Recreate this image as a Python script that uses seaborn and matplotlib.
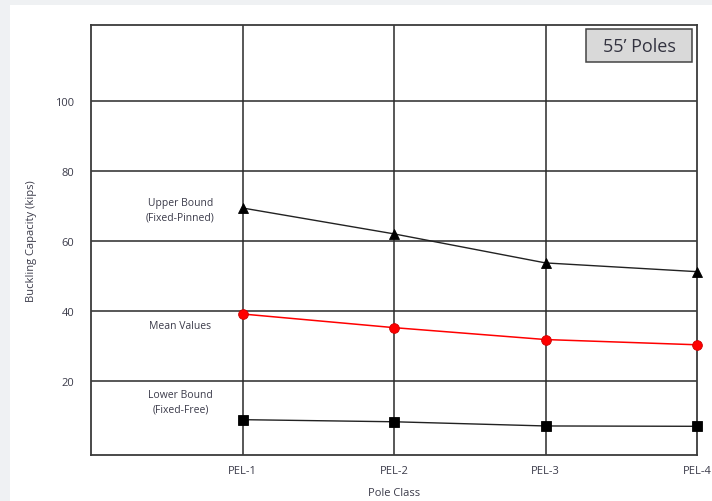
import pandas as pd
import matplotlib.pyplot as plt
import matplotlib.patches as mpatches
import seaborn as sns

pole_class = ["PEL-1", "PEL-2", "PEL-3", "PEL-4"]
upper_bound = [69.4, 62.0, 53.7, 51.2]
mean_values = [39.1, 35.2, 31.8, 30.3]
lower_bound = [8.9, 8.3, 7.1, 7.0]
y_ticks = [20, 40, 60, 80, 100]

series_labels = ["Upper Bound\n(Fixed-Pinned)", "Mean Values", "Lower Bound\n(Fixed-Free)"]
label_y = [68.9, 35.7, 14.0]


def main():
    sns.set_theme(style="white")
    plt.rcParams["font.family"] = ["Open Sans", "DejaVu Sans"]
    text_col = "#3b3b4a"

    fig = plt.figure(figsize=(7.12, 5.02), dpi=100)
    fig.patch.set_facecolor("#eff1f3")
    # white panel behind the chart
    fig.add_artist(mpatches.Rectangle((10 / 712, 0), 1, 1 - 6 / 502,
                                      transform=fig.transFigure, facecolor="white",
                                      edgecolor="none", zorder=0))
    ax = fig.add_axes([91 / 712, 1 - 456 / 502, (697 - 91) / 712, (456 - 26) / 502])
    ax.set_facecolor("white")

    df = pd.DataFrame({
        "Pole Class": pole_class * 3,
        "Capacity": upper_bound + mean_values + lower_bound,
        "Series": ["upper"] * 4 + ["mean"] * 4 + ["lower"] * 4,
    })

    styles = {
        "upper": dict(color="#222222", marker="^", mec="black", mfc="black", lw=1.0),
        "mean": dict(color="#ff0000", marker="o", mec="#cc0000", mfc="#ff0000", lw=1.1),
        "lower": dict(color="#222222", marker="s", mec="black", mfc="black", lw=1.0),
    }
    for name, st in styles.items():
        sub = df[df["Series"] == name]
        sns.lineplot(data=sub, x="Pole Class", y="Capacity", ax=ax, color=st["color"],
                     marker=st["marker"], markersize=7, markeredgecolor=st["mec"],
                     markerfacecolor=st["mfc"], linewidth=st["lw"], zorder=3,
                     markeredgewidth=0.6, clip_on=False)

    ax.set_xlim(-1, 3)
    ax.set_ylim(-1.2, 121.7)
    ax.set_yticks(y_ticks)
    ax.set_xticks(range(len(pole_class)))
    ax.set_xticklabels(pole_class)
    for x in range(len(pole_class) - 1):
        ax.axvline(x, color="#2a2a2a", linewidth=1.1, zorder=1)
    for y in y_ticks:
        ax.axhline(y, color="#2a2a2a", linewidth=1.1, zorder=1)
    for s in ax.spines.values():
        s.set_visible(True)
        s.set_color("#3a3a3a")
        s.set_linewidth(1.3)

    ax.tick_params(axis="both", length=0, labelsize=8, labelcolor=text_col)
    ax.tick_params(axis="y", pad=12)
    ax.tick_params(axis="x", pad=7)
    ax.set_xlabel("Pole Class", fontsize=8, color=text_col, labelpad=8)
    ax.set_ylabel("Buckling Capacity (kips)", fontsize=8, color=text_col, labelpad=13)

    for lab, yv in zip(series_labels, label_y):
        ax.text(-0.41, yv, lab, ha="center", va="center", fontsize=7.5,
                color=text_col, linespacing=1.45)

    # title box in the upper right corner
    ax.add_patch(mpatches.Rectangle((0.817, 0.914), 0.175, 0.077, transform=ax.transAxes,
                                    facecolor="#d9d9d9", edgecolor="#444444",
                                    linewidth=1.1, zorder=4))
    ax.text(0.9045, 0.951, "55\u2019 Poles", transform=ax.transAxes, ha="center", va="center",
            fontsize=13, color="#333340", zorder=5)

    fig.savefig("out.png", dpi=100, facecolor=fig.get_facecolor())


if __name__ == "__main__":
    main()
